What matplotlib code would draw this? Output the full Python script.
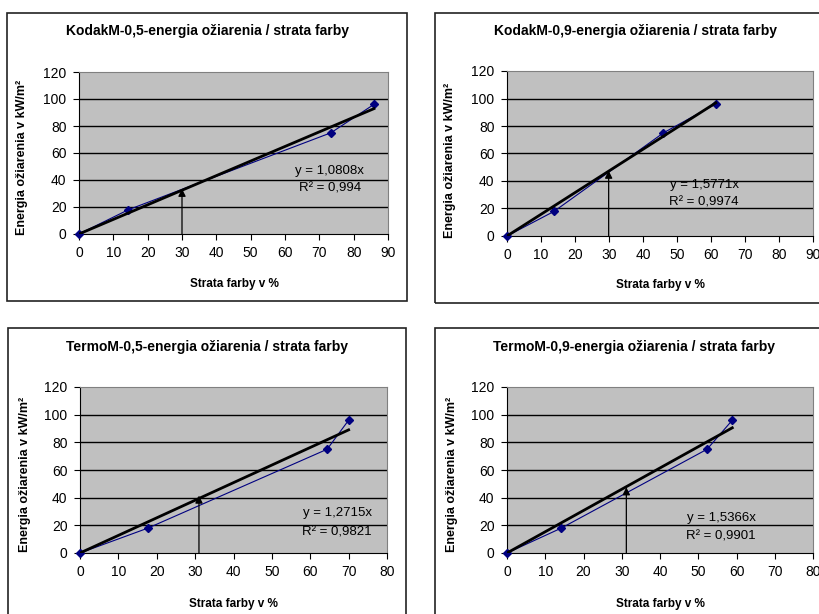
import matplotlib
matplotlib.use("Agg")
import matplotlib.pyplot as plt
from matplotlib.patches import Rectangle

plt.rcParams["font.family"] = ["Liberation Sans", "DejaVu Sans"]

# data
titles = ["KodakM-0,5-energia ožiarenia / strata farby",
          "KodakM-0,9-energia ožiarenia / strata farby",
          "TermoM-0,5-energia ožiarenia / strata farby",
          "TermoM-0,9-energia ožiarenia / strata farby"]
energy = [0, 18, 75, 96]
loss_k05 = [0, 14.4, 73.4, 85.9]
loss_k09 = [0, 13.9, 46.0, 61.4]
loss_t05 = [0, 17.7, 64.4, 70.0]
loss_t09 = [0, 14.2, 52.3, 58.9]
losses = [loss_k05, loss_k09, loss_t05, loss_t09]
slopes = [1.0808, 1.5771, 1.2715, 1.5366]
slope_txt = ["y = 1,0808x", "y = 1,5771x", "y = 1,2715x", "y = 1,5366x"]
r2_txt = ["R² = 0,994", "R² = 0,9974", "R² = 0,9821", "R² = 0,9901"]
xmax = [90, 90, 80, 80]
arrow_x = [30, 29.9, 31, 31.2]
arrow_y = [33.5, 47.5, 41.5, 47.5]
label_pos = [(73, 47, 34), (58, 37, 24), (67, 29, 15), (56, 25, 12)]

W, H = 819, 614
fig = plt.figure(figsize=(W / 100, H / 100), dpi=100)


def px(x, y):
    return x / W, 1 - y / H


# layout in pixels: axes box, outer frame, title / labels
axes_px = [(79, 72, 388, 234), (507, 71, 813, 236),
           (80, 387, 387, 553), (507, 387, 813, 553)]
frames = [(7, 13, 407, 301), (435, 13, 840, 303),
          (8, 328, 406, 640), (435, 328, 840, 640)]
title_xy = [(208, 31), (636, 31), (207, 347), (634, 347)]
xlab_xy = [(234, 284), (660, 285), (233, 604), (660, 604)]
ylab_xy = [(22, 157), (450, 160), (25, 474), (452, 474)]

for i in range(4):
    fx0, fy0, fx1, fy1 = frames[i]
    x0, y0 = px(fx0, fy1)
    fig.patches.append(Rectangle((x0, y0), (fx1 - fx0) / W, (fy1 - fy0) / H,
                                 transform=fig.transFigure, fill=False,
                                 edgecolor="#222222", lw=1.2))

    l, t, r, b = axes_px[i]
    ax = fig.add_axes([l / W, 1 - b / H, (r - l) / W, (b - t) / H])
    ax.set_facecolor("#c0c0c0")
    ax.set_xlim(0, xmax[i])
    ax.set_ylim(0, 120)
    ax.set_xticks(range(0, xmax[i] + 1, 10))
    ax.set_yticks(range(0, 121, 20))
    ax.tick_params(direction="out", length=4, labelsize=10, pad=5,
                   color="black")
    for y in range(20, 101, 20):
        ax.axhline(y, color="black", lw=1, zorder=1)
    ax.spines["top"].set_color("#808080")
    ax.spines["right"].set_color("#808080")

    x = losses[i]
    ax.plot(x, energy, color="#000080", lw=0.8, marker="D", ms=4,
            zorder=3, clip_on=False)
    ax.plot([0, x[-1]], [0, slopes[i] * x[-1]], color="black", lw=2,
            zorder=4)
    ax.annotate("", xy=(arrow_x[i], arrow_y[i]), xytext=(arrow_x[i], 0),
                arrowprops=dict(arrowstyle="-|>", color="black", lw=0.9,
                                mutation_scale=11, shrinkA=0, shrinkB=0),
                zorder=5)
    tx, ty1, ty2 = label_pos[i]
    ax.text(tx, ty1, slope_txt[i], ha="center", va="center", fontsize=9.5)
    ax.text(tx, ty2, r2_txt[i], ha="center", va="center", fontsize=9.5)

    fig.text(*px(*title_xy[i]), titles[i], ha="center", va="center",
             fontsize=10, fontweight="bold")
    fig.text(*px(*xlab_xy[i]), "Strata farby v %", ha="center",
             va="center", fontsize=8.5, fontweight="bold")
    fig.text(*px(*ylab_xy[i]), "Energia ožiarenia v kW/m²", ha="center",
             va="center", rotation=90, fontsize=9, fontweight="bold")

fig.savefig("out.png", dpi=100)
